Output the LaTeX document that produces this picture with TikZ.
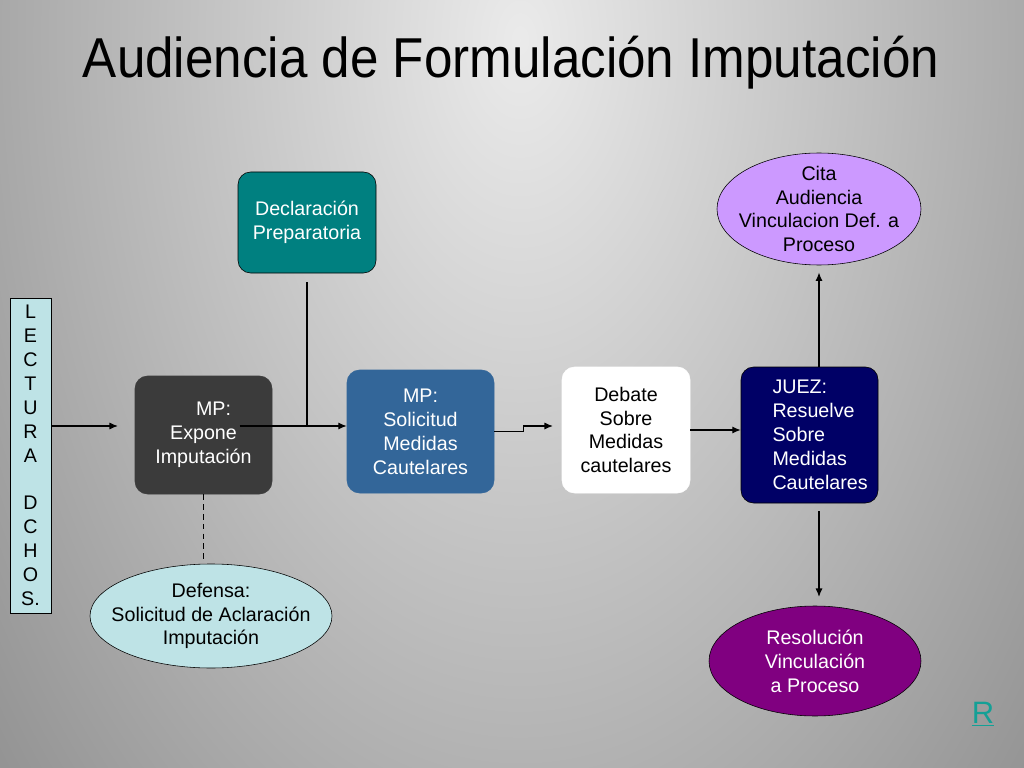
\documentclass[tikz,border=0pt]{standalone}
\usepackage{fontspec}
\setmainfont{Liberation Sans}
\usetikzlibrary{arrows.meta,calc,positioning,shapes.geometric}
\definecolor{celeste}{RGB}{190,227,230}
\definecolor{grafite}{RGB}{59,59,59}
\definecolor{petroleo}{RGB}{0,128,128}
\definecolor{azulmp}{RGB}{51,102,153}
\definecolor{marinho}{RGB}{0,0,102}
\definecolor{lilas}{RGB}{204,153,255}
\definecolor{roxo}{RGB}{128,0,128}
\definecolor{verdeR}{RGB}{20,160,150}
\pgfdeclareradialshading{fundo}{\pgfpoint{0bp}{0bp}}{color(0bp)=(black!8); color(25bp)=(black!64); color(50bp)=(black!64)}
\tikzset{%
  bloco/.style n args={3}{draw=#3,fill=#1,text=#2,rounded corners=9pt,align=center,font=\fontsize{14}{17}\selectfont,inner sep=2pt},
  elipse/.style n args={2}{ellipse,draw=black,fill=#1,text=#2,align=center,font=\fontsize{14}{17}\selectfont,inner sep=-20pt},
  conecta/.style={draw=black,line width=0.8pt,arrows=-{Latex[width=5pt,length=6pt]}},
  linha/.style={draw=black,line width=0.8pt},
  tracejada/.style={draw=black,line width=0.8pt,dash pattern=on 4pt off 3pt},
  titulo/.style={font=\fontsize{40}{48}\selectfont,text=black,anchor=base,xscale=0.91,transform shape}
}
\begin{document}
\begin{tikzpicture}
  \useasboundingbox (0,0) rectangle (25.6,-19.2);
  % fundo
  \begin{scope}
    \clip (0,0) rectangle (25.6,-19.2);
    \shade[shading=fundo] (13,-1) ellipse (28 and 46);
  \end{scope}
  \node[titulo] (tit) at (12.775,-1.95) {Audiencia de Formulación Imputación};
  % blocos
  \node[bloco={celeste}{black}{black},rounded corners=0pt,inner sep=0pt,minimum width=1.025cm,minimum height=7.875cm] (lectura) at (0.7625,-11.3875) {L\\E\\C\\T\\U\\R\\A\\~\\D\\C\\H\\O\\S.};
  \node[bloco={grafite}{white}{grafite},minimum width=3.425cm,minimum height=2.95cm] (expone) at (5.0875,-10.875) {\hspace*{0.5cm}MP:\\Expone\\Imputación};
  \node[bloco={petroleo}{white}{black},minimum width=3.45cm,minimum height=2.525cm] (declaracion) at (7.675,-5.5625) {Declaración\\Preparatoria};
  \node[bloco={azulmp}{white}{azulmp},minimum width=3.675cm,minimum height=3.075cm] (solicitud) at (10.5125,-10.7875) {MP:\\Solicitud\\Medidas\\Cautelares};
  \node[bloco={white}{black}{white},minimum width=3.2cm,minimum height=3.15cm] (debate) at (15.65,-10.75) {Debate\\Sobre\\Medidas\\cautelares};
  \node[bloco={marinho}{white}{black},align=left,text width=1.85cm,minimum width=3.425cm,minimum height=3.4cm] (juez) at (20.2375,-10.875) {JUEZ:\\Resuelve\\Sobre\\Medidas\\Cautelares};
  \node[elipse={lilas}{black},minimum width=5.1cm,minimum height=2.8cm] (cita) at (20.475,-5.225) {Cita\\Audiencia\\Vinculacion Def. a\\Proceso};
  \node[elipse={roxo}{white},minimum width=5.3cm,minimum height=2.75cm] (resolucion) at (20.375,-16.525) {Resolución\\Vinculación\\a Proceso};
  \node[elipse={celeste}{black},minimum width=6.05cm,minimum height=2.6cm] (defensa) at (5.275,-15.4) {Defensa:\\Solicitud de Aclaración\\Imputación};
  \node[font=\fontsize{22}{26}\selectfont,text=verdeR] (volver) at (24.575,-17.85) {\underline{R}};
  % conexoes
  \coordinate (juncao) at (7.675,-10.65);
  \draw[conecta,shorten >=0.42cm] (lectura.east |- juncao) -- (expone.west |- juncao);
  \draw[conecta] ($(expone.center |- juncao)+(0.9,0)$) -- (solicitud.west |- juncao);
  \draw[linha] ([yshift=-0.22cm]declaracion.south) -- (juncao);
  \draw[conecta,shorten >=0.22cm] ([yshift=0.01cm]solicitud.east) -- ++(0.725,0) |- ([yshift=0.1cm]debate.west);
  \draw[conecta] (debate.east) -- (debate.east -| juez.west);
  \draw[conecta,shorten >=0.18cm] (juez.north -| cita.south) -- (cita.south);
  \draw[conecta,shorten <=0.2cm,shorten >=0.22cm] (juez.south -| cita.south) -- (resolucion.north -| cita.south);
  \draw[tracejada,shorten >=0.1cm] (expone.south) -- (expone.south |- defensa.north);
\end{tikzpicture}
\end{document}
